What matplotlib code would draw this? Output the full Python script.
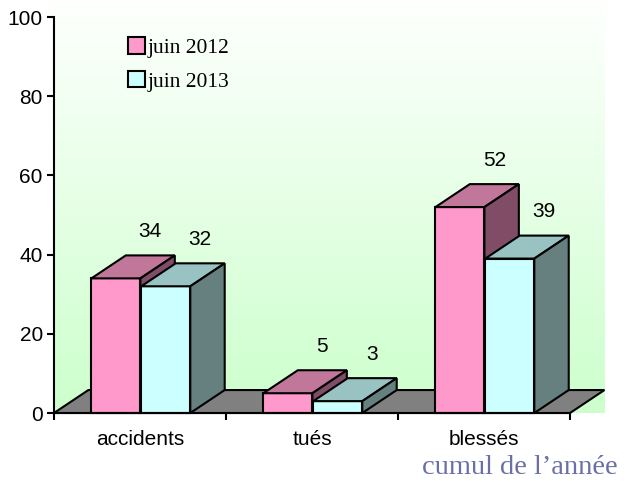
import matplotlib.pyplot as plt
import numpy as np
from matplotlib.patches import Polygon, Patch
from matplotlib.colors import LinearSegmentedColormap

plt.rcParams.update({
    "font.family": "Liberation Sans",
    "font.size": 15,
})

categories = ["accidents", "tués", "blessés"]
series_names = ["juin 2012", "juin 2013"]
values_2012 = [34, 5, 52]
values_2013 = [32, 3, 39]
yticks = [0, 20, 40, 60, 80, 100]

# face colours: front, top, side
pink = ("#FF99CC", "#C0779A", "#804C66")
cyan = ("#CCFFFF", "#99C2C2", "#668080")

# pseudo-3D depth (in data units)
DX, DY = 0.2, 5.8
W = 0.285

fig = plt.figure(figsize=(6.24, 4.83), dpi=100)
ax = fig.add_axes([0.0865, 0.1449, 0.827, 0.8199])
ax.set_xlim(0, 3)
ax.set_ylim(0, 100)

# walls gradient, clipped to side wall + back wall
cmap = LinearSegmentedColormap.from_list("wall", ["#CCFFCC", "#FFFFFF"])
grad = np.linspace(0, 1, 256).reshape(-1, 1)
im = ax.imshow(grad, cmap=cmap, origin="lower", aspect="auto",
               extent=(0, 3 + DX, 0, 100 + DY), zorder=0, clip_on=False)
wall = Polygon([(0, 0), (3, 0), (3 + DX, DY), (3 + DX, 100 + DY), (0, 100 + DY)],
               closed=True, transform=ax.transData, facecolor="none", edgecolor="none")
im.set_clip_path(wall)

# floor
floor = Polygon([(0, 0), (3, 0), (3 + DX, DY), (DX, DY)], closed=True,
                facecolor="#808080", edgecolor="black", lw=1.5, zorder=1, clip_on=False)
ax.add_patch(floor)


def bar3d(x0, h, cols):
    x1 = x0 + W
    front = Polygon([(x0, 0), (x1, 0), (x1, h), (x0, h)], closed=True)
    top = Polygon([(x0, h), (x1, h), (x1 + DX, h + DY), (x0 + DX, h + DY)], closed=True)
    side = Polygon([(x1, 0), (x1 + DX, DY), (x1 + DX, h + DY), (x1, h)], closed=True)
    for p, c in zip((front, top, side), cols):
        p.set_facecolor(c)
        p.set_edgecolor("black")
        p.set_linewidth(1.5)
        p.set_joinstyle("miter")
        p.set_zorder(2)
        p.set_clip_on(False)
        ax.add_patch(p)


for i, (a, b) in enumerate(zip(values_2012, values_2013)):
    c1 = i + 0.36
    c2 = i + 0.65
    bar3d(c1 - W / 2, a, pink)
    bar3d(c2 - W / 2, b, cyan)
    ax.text(c1 + DX, a + DY + 6, str(a), ha="center", va="center", fontsize=15)
    ax.text(c2 + DX, b + DY + 6, str(b), ha="center", va="center", fontsize=15)

# axes styling
for s in ("top", "right"):
    ax.spines[s].set_visible(False)
ax.spines["left"].set_linewidth(1.5)
ax.spines["bottom"].set_linewidth(1.5)
ax.spines["left"].set_zorder(3)
ax.spines["bottom"].set_zorder(3)
ax.set_yticks(yticks)
ax.tick_params(axis="y", length=5, width=1.5, pad=3, labelsize=15)
ax.set_xticks([0, 1, 2, 3])
ax.set_xticklabels([])
ax.set_xticks([0.5, 1.5, 2.5], minor=True)
ax.set_xticklabels(categories, minor=True)
ax.tick_params(axis="x", which="major", length=5, width=1.5)
ax.tick_params(axis="x", which="minor", length=0, pad=12, labelsize=15)

handles = [Patch(facecolor=pink[0], edgecolor="black", lw=1.5),
           Patch(facecolor=cyan[0], edgecolor="black", lw=1.5)]
ax.legend(handles, series_names, loc="upper left", bbox_to_anchor=(0.105, 0.998),
          frameon=False, prop={"family": "Liberation Serif", "size": 15.5},
          handlelength=0.8, handleheight=0.8, handletextpad=0.15, labelspacing=0.6)

fig.text(0.99, 0.033, "cumul de l\u2019année", ha="right", va="center",
         family="Liberation Serif", fontsize=20.5, color="#6A6FA8")

fig.savefig("out.png", dpi=100)
